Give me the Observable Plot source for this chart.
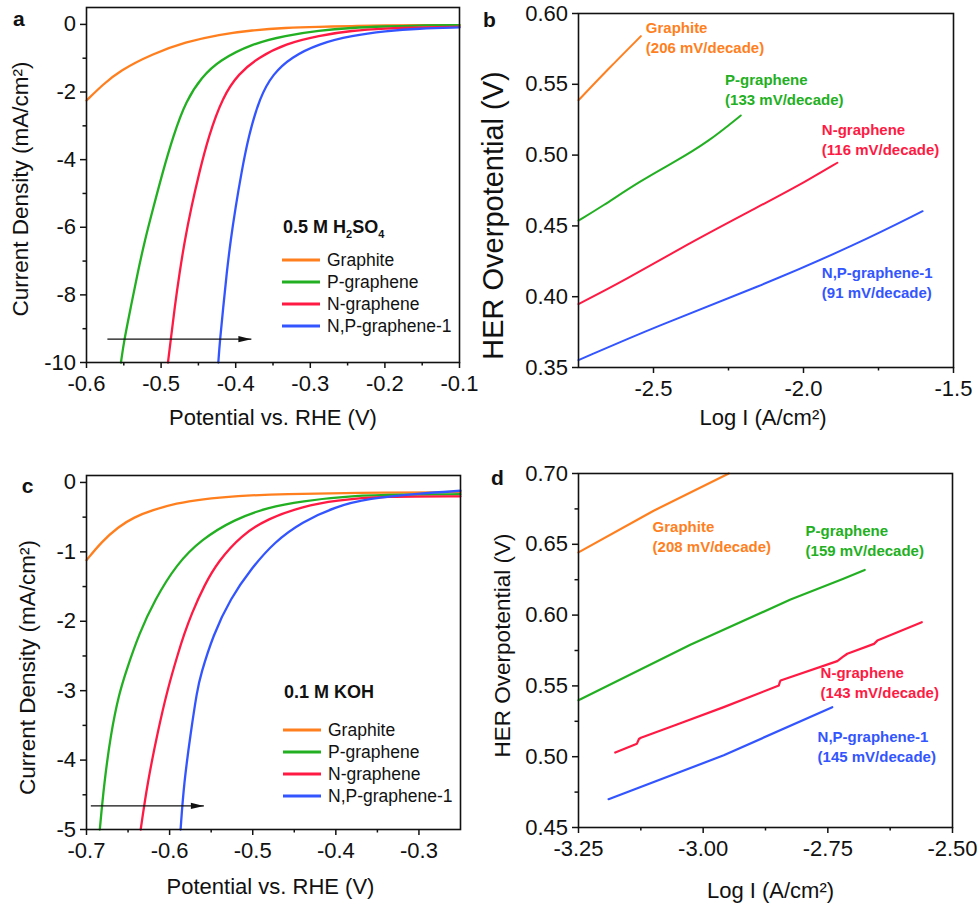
<!DOCTYPE html>
<html><head><meta charset="utf-8">
<script src="https://cdn.jsdelivr.net/npm/d3@7"></script>
<script src="https://cdn.jsdelivr.net/npm/@observablehq/plot@0.6"></script>
<style>
html,body{margin:0;padding:0;background:#fff;}
#fig{position:relative;width:980px;height:906px;background:#fff;font-family:"Liberation Sans",Arial,sans-serif;overflow:hidden;}
#fig svg{position:absolute;overflow:visible;}
</style></head><body><div id="fig"></div>
<script>
// ---------- data ----------
const seriesNames = ["Graphite", "P-graphene", "N-graphene", "N,P-graphene-1"];
const seriesColors = ["#ff7f1e", "#22b022", "#ff1a44", "#3355ff"];

// Panel a: LSV in 0.5 M H2SO4 (potential V, current density mA/cm2)
const aGraphiteV = [-0.6, -0.578, -0.5564, -0.5117, -0.467, -0.4225, -0.378, -0.3333, -0.289, -0.244, -0.2, -0.15, -0.1];
const aGraphiteJ = [-2.25, -1.78, -1.38, -0.87, -0.52, -0.30, -0.17, -0.10, -0.07, -0.05, -0.03, -0.02, -0.02];
const aPV = [-0.5538, -0.5497, -0.5407, -0.5317, -0.522, -0.5103, -0.4985, -0.4838, -0.4665, -0.4455, -0.4225, -0.378, -0.3333, -0.2887, -0.244, -0.2, -0.155, -0.1];
const aPJ = [-10, -9.36, -8.37, -7.38, -6.40, -5.41, -4.42, -3.3, -2.25, -1.56, -1.07, -0.57, -0.33, -0.18, -0.10, -0.06, -0.03, -0.02];
const aNV = [-0.4908, -0.4872, -0.4818, -0.4755, -0.4684, -0.4595, -0.4493, -0.4363, -0.4175, -0.3965, -0.369, -0.3333, -0.2887, -0.244, -0.2, -0.15, -0.1];
const aNJ = [-10, -9.36, -8.37, -7.38, -6.40, -5.41, -4.42, -3.3, -2.15, -1.46, -0.97, -0.57, -0.33, -0.18, -0.12, -0.09, -0.07];
const aNPV = [-0.4233, -0.4212, -0.4167, -0.4122, -0.4069, -0.4002, -0.3926, -0.3828, -0.3676, -0.35, -0.3255, -0.2887, -0.244, -0.1994, -0.155, -0.1];
const aNPJ = [-10, -9.36, -8.37, -7.38, -6.40, -5.41, -4.42, -3.3, -2.15, -1.46, -0.97, -0.57, -0.33, -0.20, -0.12, -0.09];
const aArrow = [{x1: -0.572, x2: -0.379, y: -9.31}];

// Panel b: Tafel plots in acid (log I, overpotential V)
const bGraphiteX = [-2.75, -2.65, -2.542];
const bGraphiteY = [0.5387, 0.561, 0.584];
const bPX = [-2.75, -2.6756, -2.542, -2.431, -2.32, -2.209];
const bPY = [0.4538, 0.4632, 0.482, 0.495, 0.509, 0.528];
const bNX = [-2.75, -2.598, -2.376, -2.153, -1.987, -1.887];
const bNY = [0.3948, 0.4113, 0.4384, 0.4632, 0.482, 0.4946];
const bNPX = [-2.75, -2.487, -2.153, -1.82, -1.603];
const bNPY = [0.3552, 0.3795, 0.4066, 0.4373, 0.4604];
const bSlopes = ["(206 mV/decade)", "(133 mV/decade)", "(116 mV/decade)", "(91 mV/decade)"];
const bLabelX = [-2.5257, -2.2613, -1.939, -1.939];
const bLabelY = [0.5823, 0.5457, 0.5104, 0.4092];

// Panel c: LSV in 0.1 M KOH
const cGraphiteV = [-0.7, -0.6818, -0.6618, -0.6428, -0.6208, -0.5918, -0.5608, -0.5208, -0.4608, -0.38, -0.25];
const cGraphiteJ = [-1.12, -0.855, -0.64, -0.50, -0.40, -0.30, -0.24, -0.195, -0.165, -0.15, -0.14];
const cPV = [-0.684, -0.6788, -0.6708, -0.6608, -0.6518, -0.6368, -0.6178, -0.5918, -0.5618, -0.5218, -0.4818, -0.4418, -0.3807, -0.32, -0.25];
const cPJ = [-5, -4.34, -3.62, -3.04, -2.70, -2.18, -1.69, -1.18, -0.82, -0.53, -0.36, -0.27, -0.19, -0.175, -0.17];
const cNV = [-0.6348, -0.6268, -0.6148, -0.6028, -0.5888, -0.5828, -0.574, -0.5578, -0.5418, -0.5137, -0.4818, -0.4407, -0.4007, -0.3407, -0.25];
const cNJ = [-5, -4.34, -3.62, -2.99, -2.42, -2.2, -1.9, -1.47, -1.14, -0.76, -0.52, -0.35, -0.255, -0.20, -0.20];
const cNPV = [-0.5868, -0.5828, -0.5748, -0.5668, -0.5628, -0.5478, -0.5267, -0.5017, -0.4738, -0.4407, -0.4007, -0.3607, -0.30, -0.25];
const cNPJ = [-5, -4.34, -3.62, -2.99, -2.78, -2.2, -1.67, -1.24, -0.856, -0.57, -0.35, -0.23, -0.16, -0.12];
const cArrow = [{x1: -0.6948, x2: -0.5588, y: -4.66}];

// Panel d: Tafel plots in base
const dGraphiteX = [-3.25, -3.0993, -2.9487];
const dGraphiteY = [0.6443, 0.6737, 0.70];
const dPX = [-3.25, -3.0257, -2.8248, -2.72, -2.6761];
const dPY = [0.5398, 0.5790, 0.6110, 0.6255, 0.6319];
const dNX = [-3.1763, -3.1328, -3.1288, -3.1248, -3.0525, -2.9587, -2.8482, -2.8465, -2.8448, -2.731, -2.72, -2.711, -2.6574, -2.6507, -2.5616];
const dNY = [0.5029, 0.5092, 0.5125, 0.5134, 0.5228, 0.535, 0.5503, 0.5525, 0.5538, 0.5675, 0.5705, 0.5727, 0.5797, 0.582, 0.595];
const dNPX = [-3.1897, -2.9587, -2.7411];
const dNPY = [0.47, 0.501, 0.535];
const dSlopes = ["(208 mV/decade)", "(159 mV/decade)", "(143 mV/decade)", "(145 mV/decade)"];
const dLabelX = [-3.1014, -2.7947, -2.7646, -2.7706];
const dLabelY = [0.655, 0.6519, 0.5518, 0.5067];

// Axis ticks
const aXTicks = [-0.6, -0.5, -0.4, -0.3, -0.2, -0.1];
const aXMinor = [-0.55, -0.45, -0.35, -0.25, -0.15];
const aYTicks = [0, -2, -4, -6, -8, -10];
const aYMinor = [-1, -3, -5, -7, -9];
const bXTicks = [-2.5, -2.0, -1.5];
const bXMinor = [-2.25, -1.75];
const bYTicks = [0.35, 0.40, 0.45, 0.50, 0.55, 0.60];
const cXTicks = [-0.7, -0.6, -0.5, -0.4, -0.3];
const cXMinor = [-0.65, -0.55, -0.45, -0.35];
const cYTicks = [0, -1, -2, -3, -4, -5];
const cYMinor = [-0.5, -1.5, -2.5, -3.5, -4.5];
const dXTicks = [-3.25, -3.0, -2.75, -2.5];
const dXMinor = [-3.125, -2.875, -2.625];
const dYTicks = [0.45, 0.50, 0.55, 0.60, 0.65, 0.70];
const dYMinor = [0.475, 0.525, 0.575, 0.625, 0.675];

// ---------- helpers ----------
function rows(xsList, ysList) {
  const out = [];
  xsList.forEach((xs, i) => xs.forEach((x, k) => out.push({s: seriesNames[i], x, y: ysList[i][k]})));
  return out;
}
function labelRows(xs, ys, slopes) {
  return seriesNames.map((s, i) => ({s, x: xs[i], y: ys[i], slope: slopes[i]}));
}
const FONT = "Liberation Sans, Arial, sans-serif";

const arrowHead = {draw(ctx) { ctx.moveTo(0, 0); ctx.lineTo(-13, -3.2); ctx.lineTo(-13, 3.2); ctx.closePath(); }};

function legendMark(titleParts, x0, yTitle, yRows) {
  return () => {
    const g = d3.create("svg:g").attr("font-family", FONT).attr("text-anchor", "start");
    const t = g.append("text").attr("x", x0).attr("y", yTitle).attr("dy", "0.35em")
      .attr("font-weight", "bold").attr("font-size", 18).attr("fill", "#111");
    titleParts.forEach(([str, sub], i) => {
      const prev = i > 0 ? titleParts[i - 1][1] : 0;
      const ts = t.append("tspan").text(str);
      if (sub) ts.attr("font-size", 11);
      if (sub && !prev) ts.attr("dy", 5);
      else if (!sub && prev) ts.attr("dy", -5);
    });
    seriesNames.forEach((s, i) => {
      g.append("line").attr("x1", x0 - 1).attr("x2", x0 + 37).attr("y1", yRows[i]).attr("y2", yRows[i])
        .attr("stroke", seriesColors[i]).attr("stroke-width", 3);
      g.append("text").attr("x", x0 + 44).attr("y", yRows[i]).attr("dy", "0.35em")
        .attr("font-size", 17.5).attr("fill", "#111").text(s);
    });
    return g.node();
  };
}

function drawPanel(p) {
  const marks = [
    Plot.line(p.data, {x: "x", y: "y", z: "s", stroke: "s", strokeWidth: p.lineWidth, curve: p.curve}),
    Plot.frame({stroke: "#111", strokeWidth: 1.6}),
    Plot.axisX(p.xTicks, {tickSize: 6, tickPadding: 7, tickFormat: p.xFormat, label: null, fontSize: 22, strokeWidth: 1.5, color: "#111"}),
    Plot.axisX(p.xMinor, {tickSize: 3.5, tickFormat: () => "", label: null, strokeWidth: 1.5, color: "#111"}),
    Plot.axisY(p.yTicks, {tickSize: 6, tickPadding: 4.5, tickFormat: p.yFormat, label: null, fontSize: 22, strokeWidth: 1.5, color: "#111"}),
    Plot.text([p.xLabel], {text: d => d, frameAnchor: "bottom", textAnchor: "middle", lineAnchor: "middle", dx: p.xLabelDx, dy: p.xLabelDy, fontSize: 22, fill: "#111"}),
    Plot.text([p.yLabel], {text: d => d, frameAnchor: "left", textAnchor: "middle", lineAnchor: "middle", rotate: -90, dx: p.yLabelDx, dy: p.yLabelDy, fontSize: p.yLabelSize, fill: "#111"}),
    Plot.text([p.letter], {text: d => d, frameAnchor: "top-left", textAnchor: "middle", lineAnchor: "middle", dx: p.letterDx, dy: p.letterDy, fontWeight: "bold", fontSize: 21, fill: "#111"})
  ];
  if (p.yMinor) marks.push(Plot.axisY(p.yMinor, {tickSize: 3.5, tickFormat: () => "", label: null, strokeWidth: 1.5, color: "#111"}));
  if (p.extra) marks.push(...p.extra);
  const svg = Plot.plot({
    width: p.width, height: p.height,
    marginLeft: p.m[0], marginRight: p.m[1], marginTop: p.m[2], marginBottom: p.m[3],
    x: {domain: p.xDomain, label: null},
    y: {domain: p.yDomain, label: null},
    color: {domain: seriesNames, range: seriesColors},
    style: {fontFamily: FONT, color: "#111", background: "transparent", overflow: "visible"},
    marks
  });
  svg.style.left = p.left + "px";
  svg.style.top = p.top + "px";
  document.getElementById("fig").appendChild(svg);
}

const f1 = d => d.toFixed(1), f2 = d => d.toFixed(2), f0 = d => String(d);

function arrowMarks(arr) {
  return [
    Plot.link(arr, {x1: "x1", x2: "x2", y1: "y", y2: "y", stroke: "#111", strokeWidth: 1.4}),
    Plot.dot(arr, {x: "x2", y: "y", symbol: arrowHead, fill: "#111", stroke: "none"})
  ];
}
function tafelLabels(lab) {
  return [
    Plot.text(lab, {x: "x", y: "y", text: "s", fill: "s", dy: -10, textAnchor: "start", lineAnchor: "middle", fontWeight: "bold", fontSize: 15}),
    Plot.text(lab, {x: "x", y: "y", text: "slope", fill: "s", dy: 10, textAnchor: "start", lineAnchor: "middle", fontWeight: "bold", fontSize: 15})
  ];
}

// Panel a
drawPanel({
  left: 0, top: 0, width: 490, height: 450, m: [86, 31, 7, 88],
  xDomain: [-0.6, -0.1], yDomain: [-10, 0.5], curve: "basis",
  data: rows([aGraphiteV, aPV, aNV, aNPV], [aGraphiteJ, aPJ, aNJ, aNPJ]), lineWidth: 2.3,
  xTicks: aXTicks, xMinor: aXMinor, yTicks: aYTicks, yMinor: aYMinor, xFormat: f1, yFormat: f0,
  xLabel: "Potential vs. RHE (V)", xLabelDx: 0, xLabelDy: 55,
  yLabel: "Current Density (mA/cm²)", yLabelDx: -66, yLabelDy: 4, yLabelSize: 22.5,
  letter: "a", letterDx: -67.7, letterDy: 12.2,
  extra: [...arrowMarks(aArrow), legendMark([["0.5 M H", 0], ["2", 1], ["SO", 0], ["4", 1]], 283, 227, [260, 282, 304, 326])]
});

// Panel b
drawPanel({
  left: 470, top: 0, width: 510, height: 450, m: [108, 27, 13, 83],
  xDomain: [-2.75, -1.5], yDomain: [0.35, 0.60], curve: "basis",
  data: rows([bGraphiteX, bPX, bNX, bNPX], [bGraphiteY, bPY, bNY, bNPY]), lineWidth: 2,
  xTicks: bXTicks, xMinor: bXMinor, yTicks: bYTicks, xFormat: f1, yFormat: f2,
  xLabel: "Log I (A/cm²)", xLabelDx: -3, xLabelDy: 50,
  yLabel: "HER Overpotential (V)", yLabelDx: -85, yLabelDy: 25, yLabelSize: 29,
  letter: "b", letterDx: -89, letterDy: 7,
  extra: tafelLabels(labelRows(bLabelX, bLabelY, bSlopes))
});

// Panel c
drawPanel({
  left: 0, top: 450, width: 490, height: 456, m: [86, 30, 25, 77],
  xDomain: [-0.7, -0.25], yDomain: [-5, 0.1], curve: "basis",
  data: rows([cGraphiteV, cPV, cNV, cNPV], [cGraphiteJ, cPJ, cNJ, cNPJ]), lineWidth: 2.3,
  xTicks: cXTicks, xMinor: cXMinor, yTicks: cYTicks, yMinor: cYMinor, xFormat: f1, yFormat: f0,
  xLabel: "Potential vs. RHE (V)", xLabelDx: -3, xLabelDy: 57.7,
  yLabel: "Current Density (mA/cm²)", yLabelDx: -59, yLabelDy: 15, yLabelSize: 22.5,
  letter: "c", letterDx: -59, letterDy: 10.3,
  extra: [...arrowMarks(cArrow), legendMark([["0.1 M KOH", 0]], 284, 242, [280, 302, 324, 346])]
});

// Panel d
drawPanel({
  left: 470, top: 450, width: 510, height: 456, m: [108, 28, 23, 79],
  xDomain: [-3.25, -2.5], yDomain: [0.45, 0.70], curve: "linear",
  data: rows([dGraphiteX, dPX, dNX, dNPX], [dGraphiteY, dPY, dNY, dNPY]), lineWidth: 2.2,
  xTicks: dXTicks, xMinor: dXMinor, yTicks: dYTicks, yMinor: dYMinor, xFormat: f2, yFormat: f2,
  xLabel: "Log I (A/cm²)", xLabelDx: 5, xLabelDy: 63,
  yLabel: "HER Overpotential (V)", yLabelDx: -76, yLabelDy: -5, yLabelSize: 22.5,
  letter: "d", letterDx: -81, letterDy: 5,
  extra: tafelLabels(labelRows(dLabelX, dLabelY, dSlopes))
});
</script></body></html>
